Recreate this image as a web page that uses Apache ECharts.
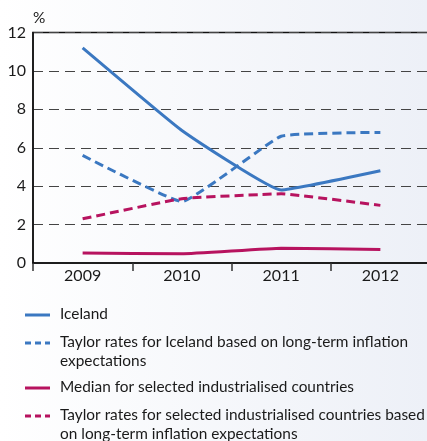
<!DOCTYPE html>
<html>
<head>
<meta charset="utf-8">
<script src="https://cdn.jsdelivr.net/npm/echarts@6/dist/echarts.min.js"></script>
<style>
  html, body { margin: 0; padding: 0; }
  body { background: linear-gradient(to right, #ffffff, #edf0f7); }
  #main { width: 427px; height: 441px; }
</style>
</head>
<body>
<div id="main"></div>
<script>
var years = ['2009', '2010', '2011', '2012'];
var iceland = [11.2, 6.9, 3.8, 4.8];
var taylorIceland = [5.6, 3.2, 6.6, 6.8];
var medianIndustrial = [0.52, 0.48, 0.77, 0.7];
var taylorIndustrial = [2.3, 3.35, 3.6, 3.0];
var seriesNames = [
    'Iceland',
    'Taylor rates for Iceland based on long-term inflation\nexpectations',
    'Median for selected industrialised countries',
    'Taylor rates for selected industrialised countries based\non long-term inflation expectations'
];

var blue = '#3b78c1';
var red = '#b7135f';
var font = 'Lato';
var fs = 15.4;

var myChart = echarts.init(document.getElementById('main'));

function makeSeries(name, data, color, dashed) {
    return {
        name: name,
        type: 'line',
        data: data,
        symbol: 'none',
        smooth: 0.1,
        lineStyle: {
            color: color,
            width: 3,
            type: dashed ? [9, 5] : 'solid'
        },
        z: 3
    };
}

// legend drawn by hand so the icon sits on the first line of wrapped text
var legendRows = [
    {y: 315, color: blue, dashed: false},
    {y: 343, color: blue, dashed: true},
    {y: 388, color: red, dashed: false},
    {y: 416, color: red, dashed: true}
];
var graphics = [{
    type: 'text',
    left: 33,
    top: 11,
    style: {text: '%', fontSize: fs, fontFamily: font, fill: '#1a1a1a'}
}];
legendRows.forEach(function (row, i) {
    graphics.push({
        type: 'line',
        shape: {x1: 25, y1: row.y, x2: 50, y2: row.y},
        style: {
            stroke: row.color,
            lineWidth: 3,
            lineDash: row.dashed ? [6, 4] : null
        }
    });
    graphics.push({
        type: 'text',
        x: 60,
        y: row.y - 10,
        style: {
            text: seriesNames[i],
            fontSize: fs,
            lineHeight: 19,
            fontFamily: font,
            fill: '#1a1a1a'
        }
    });
});

var option = {
    animation: false,
    textStyle: {fontFamily: font},
    grid: {
        show: true,
        left: 33,
        top: 32.5,
        right: -3,
        bottom: 178,
        borderColor: '#111',
        borderWidth: 1.5,
        outerBoundsMode: 'none'
    },
    xAxis: {
        type: 'category',
        data: years,
        boundaryGap: true,
        axisLine: {lineStyle: {color: '#111', width: 1.5}},
        axisTick: {show: true, length: 8, lineStyle: {color: '#333', width: 1.5}},
        axisLabel: {fontSize: 16, color: '#1a1a1a', margin: 5, fontFamily: font},
        splitLine: {show: false}
    },
    yAxis: {
        type: 'value',
        min: 0,
        max: 12,
        interval: 2,
        axisLine: {show: true, lineStyle: {color: '#111', width: 1.5}},
        axisTick: {show: false},
        axisLabel: {fontSize: 16, color: '#1a1a1a', margin: 7, fontFamily: font},
        splitLine: {lineStyle: {color: '#444', type: [10, 6], width: 1.2}}
    },
    graphic: graphics,
    series: [
        makeSeries(seriesNames[0], iceland, blue, false),
        makeSeries(seriesNames[1], taylorIceland, blue, true),
        makeSeries(seriesNames[2], medianIndustrial, red, false),
        makeSeries(seriesNames[3], taylorIndustrial, red, true)
    ]
};

myChart.setOption(option);
</script>
</body>
</html>
